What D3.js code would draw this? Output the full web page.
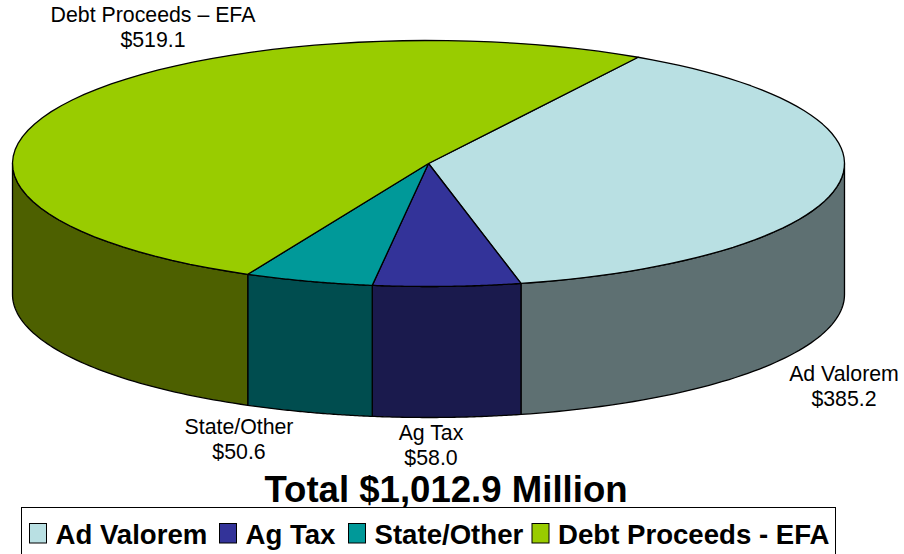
<!DOCTYPE html>
<html>
<head>
<meta charset="utf-8">
<script src="https://cdn.jsdelivr.net/npm/d3@7/dist/d3.min.js"></script>
<style>
html, body { margin: 0; padding: 0; background: #fff; overflow: hidden; }
text { font-family: "Liberation Sans", Arial, sans-serif; fill: #000; }
</style>
</head>
<body>
<script>
// Revenue sources, in millions of dollars
const categories = ["Ad Valorem", "Ag Tax", "State/Other", "Debt Proceeds - EFA"];
const values = [385.2, 58.0, 50.6, 519.1];
const sliceLabels = ["Ad Valorem", "Ag Tax", "State/Other", "Debt Proceeds – EFA"];
const valueLabels = ["$385.2", "$58.0", "$50.6", "$519.1"];
const topColors = ["#b9e0e3", "#333399", "#009999", "#99cc00"];
const wallColors = ["#5e7072", "#1a1a4d", "#004d4f", "#4d6000"];
const titleText = "Total $1,012.9 Million";

const width = 904, height = 554;
const cx = 428.5, cy = 163.5, rx = 416, ry = 123, depth = 131;
const firstAngle = 30.25 * Math.PI / 180;

const svg = d3.select("body").append("svg")
  .attr("width", width).attr("height", height)
  .style("display", "block");

// Flattened-disc projection: unit circle to the tilted ellipse
const px = d3.scaleLinear().domain([-1, 1]).range([cx - rx, cx + rx]);
const py = d3.scaleLinear().domain([-1, 1]).range([cy - ry, cy + ry]);
const rimX = a => px(Math.sin(a));
const rimY = a => py(-Math.cos(a));

const pie = d3.pie().sort(null)
  .startAngle(firstAngle)
  .endAngle(firstAngle + 2 * Math.PI);
const arcs = pie(values);

const line = d3.line();
const sampleRim = (a0, a1) => d3.range(0, 61).map(i => a0 + (a1 - a0) * i / 60);

// Visible front wall runs from the right extreme (PI/2) to the left extreme (3PI/2)
const wallGroup = svg.append("g");
arcs.forEach((d, i) => {
  const a0 = Math.max(d.startAngle, Math.PI / 2);
  const a1 = Math.min(d.endAngle, 3 * Math.PI / 2);
  if (a1 <= a0) return;
  const upper = sampleRim(a0, a1).map(a => [rimX(a), rimY(a)]);
  const lower = upper.map(p => [p[0], p[1] + depth]).reverse();
  wallGroup.append("path")
    .attr("d", line(upper.concat(lower)) + "Z")
    .attr("fill", wallColors[i])
    .attr("stroke", "#000")
    .attr("stroke-width", 1.3)
    .attr("stroke-linejoin", "round");
});

// Top face of each slice
const topGroup = svg.append("g");
arcs.forEach((d, i) => {
  const rim = sampleRim(d.startAngle, d.endAngle).map(a => [rimX(a), rimY(a)]);
  topGroup.append("path")
    .attr("d", line([[cx, cy]].concat(rim)) + "Z")
    .attr("fill", topColors[i])
    .attr("stroke", "#000")
    .attr("stroke-width", 1.3)
    .attr("stroke-linejoin", "round");
});

// Slice captions: name above value
const labelAnchors = [[844, 381], [431, 440], [239, 433.5], [153, 22]];
const labels = svg.append("g").attr("text-anchor", "middle").style("font-size", "21.3px");
arcs.forEach((d, i) => {
  const [x, y] = labelAnchors[i];
  labels.append("text").attr("x", x).attr("y", y).text(sliceLabels[i]);
  labels.append("text").attr("x", x).attr("y", y + 25).text(valueLabels[i]);
});

// Chart title
svg.append("text")
  .attr("x", 446).attr("y", 502)
  .attr("text-anchor", "middle")
  .style("font-size", "36.6px")
  .style("font-weight", "bold")
  .text(titleText);

// Legend frame runs past the bottom edge of the page
svg.append("rect")
  .attr("x", 21.5).attr("y", 507.5)
  .attr("width", 814).attr("height", 60)
  .attr("fill", "#fff")
  .attr("stroke", "#000")
  .attr("stroke-width", 1);

const legendX = [29.5, 219.5, 348.5, 532];
const legend = svg.append("g");
categories.forEach((c, i) => {
  legend.append("rect")
    .attr("x", legendX[i]).attr("y", 523.5)
    .attr("width", 17).attr("height", 19.5)
    .attr("fill", topColors[i])
    .attr("stroke", "#000")
    .attr("stroke-width", 1);
  legend.append("text")
    .attr("x", legendX[i] + 26).attr("y", 544)
    .style("font-size", "27.6px")
    .style("font-weight", "bold")
    .text(c);
});
</script>
</body>
</html>
